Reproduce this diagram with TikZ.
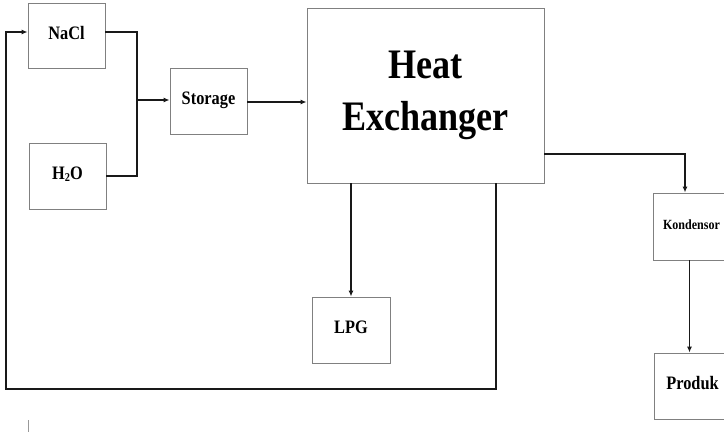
\documentclass[tikz,border=0pt]{standalone}
\usepackage{fontspec}
\setmainfont{Liberation Serif}
\newfontfamily\condbf[FakeStretch=0.86]{Liberation Serif Bold}
\usetikzlibrary{arrows.meta}
\begin{document}
\begin{tikzpicture}[x=1pt,y=-1pt,
  box/.style={draw=black!50, line width=0.9pt, fill=white, inner sep=0pt, align=center, font=\condbf\fontsize{19}{21}\selectfont},
  flow/.style={draw=black!90, line width=1.3pt},
  arr/.style={flow, -{Latex[length=6pt,width=5pt]}}]
\useasboundingbox (0,0) rectangle (724,433);
\node[box, minimum width=77pt, minimum height=65pt] (nacl) at (66.5,35.5) {\raisebox{5pt}{NaCl}};
\node[box, minimum width=77pt, minimum height=66pt] (h2o) at (67.5,176) {\raisebox{5pt}{H{\fontsize{12}{12}\selectfont\raisebox{-1.5pt}{2}}O}};
\node[box, minimum width=77pt, minimum height=66pt] (sto) at (208.5,101) {\raisebox{5pt}{Storage}};
\node[box, minimum width=237pt, minimum height=175pt, font=\condbf\fontsize{42}{53}\selectfont] (he) at (425.5,95.5) {Heat\\[-1pt]Exchanger};
\node[box, minimum width=78pt, minimum height=66pt] (lpg) at (351,330) {\raisebox{5pt}{LPG}};
\node[box, minimum width=77pt, minimum height=67pt, font=\condbf\fontsize{14}{16}\selectfont] (kon) at (691.5,226.5) {\raisebox{4pt}{Kondensor}};
\node[box, minimum width=77pt, minimum height=66pt] (pro) at (692.5,386) {\raisebox{6pt}{Produk}};
% junction
\coordinate (j) at (137,100);
\draw[flow] ([yshift=3.5pt]nacl.east) -| (j);
\draw[flow] (h2o.east) -| (j);
\draw[arr] (j) -- (j -| sto.west);
\draw[arr] ([yshift=-1pt]sto.east) -- ([yshift=-1pt]sto.east -| he.west);
\draw[arr] ([yshift=-58.5pt]he.east) -| ([xshift=-6.5pt]kon.north);
\draw[arr] ([xshift=-2pt]kon.south) -- ([xshift=-2pt]kon.south |- pro.north);
\draw[arr] (lpg.north |- he.south) -- (lpg.north);
\coordinate (fbA) at (496,389);
\coordinate (fbB) at (6,389);
\coordinate (fbC) at (6,32);
\draw[arr] (fbA |- he.south) -- (fbA) -- (fbB) -- (fbC) -- (fbC -| nacl.west);
\coordinate (tickA) at (28,420);
\coordinate (tickB) at (28,432);
\draw[black!40, line width=0.8pt] (tickA) -- (tickB);
\end{tikzpicture}
\end{document}
